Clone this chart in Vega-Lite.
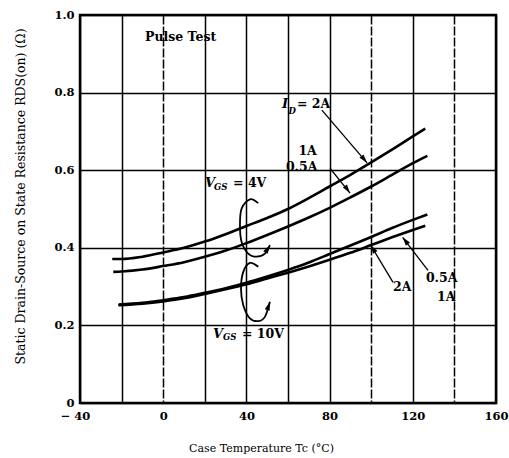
{
  "$schema": "https://vega.github.io/schema/vega-lite/v6.json",
  "width": 416,
  "height": 388,
  "autosize": {"type": "none"},
  "padding": {"left": 80, "top": 15, "right": 13, "bottom": 55},
  "background": "white",
  "config": {
    "view": {"stroke": "black", "strokeWidth": 2.5},
    "axis": {
      "labelFont": "DejaVu Serif", "labelFontWeight": "bold", "labelFontSize": 11.5, "labelColor": "black",
      "titleFont": "DejaVu Serif", "titleFontWeight": "normal", "titleFontSize": 11, "titleColor": "black",
      "ticks": false, "domain": false, "grid": true, "gridColor": "black", "gridWidth": 1.5, "gridOpacity": 1,
      "labelOverlap": false, "labelFlush": false
    }
  },
  "datasets": {
    "curves": [
      {"s": "4V 2A", "t": -24.5, "r": 0.371}, {"s": "4V 2A", "t": -20, "r": 0.371}, {"s": "4V 2A", "t": -10, "r": 0.377},
      {"s": "4V 2A", "t": 0, "r": 0.388}, {"s": "4V 2A", "t": 10, "r": 0.400}, {"s": "4V 2A", "t": 20, "r": 0.416},
      {"s": "4V 2A", "t": 30, "r": 0.435}, {"s": "4V 2A", "t": 40, "r": 0.456}, {"s": "4V 2A", "t": 50, "r": 0.477},
      {"s": "4V 2A", "t": 60, "r": 0.500}, {"s": "4V 2A", "t": 70, "r": 0.528}, {"s": "4V 2A", "t": 80, "r": 0.558},
      {"s": "4V 2A", "t": 90, "r": 0.588}, {"s": "4V 2A", "t": 100, "r": 0.620}, {"s": "4V 2A", "t": 110, "r": 0.653},
      {"s": "4V 2A", "t": 120, "r": 0.687}, {"s": "4V 2A", "t": 126, "r": 0.707},
      {"s": "4V 1A/0.5A", "t": -24, "r": 0.338}, {"s": "4V 1A/0.5A", "t": -20, "r": 0.339}, {"s": "4V 1A/0.5A", "t": -10, "r": 0.344},
      {"s": "4V 1A/0.5A", "t": 0, "r": 0.353}, {"s": "4V 1A/0.5A", "t": 10, "r": 0.363}, {"s": "4V 1A/0.5A", "t": 20, "r": 0.377},
      {"s": "4V 1A/0.5A", "t": 30, "r": 0.393}, {"s": "4V 1A/0.5A", "t": 40, "r": 0.412}, {"s": "4V 1A/0.5A", "t": 50, "r": 0.433},
      {"s": "4V 1A/0.5A", "t": 60, "r": 0.455}, {"s": "4V 1A/0.5A", "t": 70, "r": 0.478}, {"s": "4V 1A/0.5A", "t": 80, "r": 0.503},
      {"s": "4V 1A/0.5A", "t": 90, "r": 0.530}, {"s": "4V 1A/0.5A", "t": 100, "r": 0.558}, {"s": "4V 1A/0.5A", "t": 110, "r": 0.588},
      {"s": "4V 1A/0.5A", "t": 120, "r": 0.618}, {"s": "4V 1A/0.5A", "t": 127, "r": 0.637},
      {"s": "10V 2A", "t": -21.5, "r": 0.254}, {"s": "10V 2A", "t": -10, "r": 0.258}, {"s": "10V 2A", "t": 0, "r": 0.265},
      {"s": "10V 2A", "t": 10, "r": 0.273}, {"s": "10V 2A", "t": 20, "r": 0.284}, {"s": "10V 2A", "t": 30, "r": 0.296},
      {"s": "10V 2A", "t": 40, "r": 0.310}, {"s": "10V 2A", "t": 50, "r": 0.326}, {"s": "10V 2A", "t": 60, "r": 0.343},
      {"s": "10V 2A", "t": 70, "r": 0.362}, {"s": "10V 2A", "t": 80, "r": 0.384}, {"s": "10V 2A", "t": 90, "r": 0.406},
      {"s": "10V 2A", "t": 100, "r": 0.428}, {"s": "10V 2A", "t": 110, "r": 0.451}, {"s": "10V 2A", "t": 120, "r": 0.472},
      {"s": "10V 2A", "t": 127, "r": 0.486},
      {"s": "10V 0.5A/1A", "t": -21.5, "r": 0.252}, {"s": "10V 0.5A/1A", "t": -10, "r": 0.256}, {"s": "10V 0.5A/1A", "t": 0, "r": 0.262},
      {"s": "10V 0.5A/1A", "t": 10, "r": 0.270}, {"s": "10V 0.5A/1A", "t": 20, "r": 0.281}, {"s": "10V 0.5A/1A", "t": 30, "r": 0.293},
      {"s": "10V 0.5A/1A", "t": 40, "r": 0.306}, {"s": "10V 0.5A/1A", "t": 50, "r": 0.321}, {"s": "10V 0.5A/1A", "t": 60, "r": 0.336},
      {"s": "10V 0.5A/1A", "t": 70, "r": 0.352}, {"s": "10V 0.5A/1A", "t": 80, "r": 0.369}, {"s": "10V 0.5A/1A", "t": 90, "r": 0.387},
      {"s": "10V 0.5A/1A", "t": 100, "r": 0.407}, {"s": "10V 0.5A/1A", "t": 110, "r": 0.427}, {"s": "10V 0.5A/1A", "t": 120, "r": 0.446},
      {"s": "10V 0.5A/1A", "t": 126, "r": 0.457}
    ],
    "loops": [
      {"loop": "4V", "k": 1, "t": 45.7, "r": 0.515}, {"loop": "4V", "k": 2, "t": 41.7, "r": 0.525},
      {"loop": "4V", "k": 3, "t": 37.7, "r": 0.501}, {"loop": "4V", "k": 4, "t": 36.9, "r": 0.458},
      {"loop": "4V", "k": 5, "t": 37.7, "r": 0.415}, {"loop": "4V", "k": 6, "t": 40.9, "r": 0.385},
      {"loop": "4V", "k": 7, "t": 44.9, "r": 0.377}, {"loop": "4V", "k": 8, "t": 48.9, "r": 0.385},
      {"loop": "4V", "k": 9, "t": 51.3, "r": 0.407},
      {"loop": "10V", "k": 1, "t": 45.7, "r": 0.351}, {"loop": "10V", "k": 2, "t": 41.7, "r": 0.361},
      {"loop": "10V", "k": 3, "t": 38.5, "r": 0.338}, {"loop": "10V", "k": 4, "t": 37.4, "r": 0.295},
      {"loop": "10V", "k": 5, "t": 38.5, "r": 0.252}, {"loop": "10V", "k": 6, "t": 41.7, "r": 0.218},
      {"loop": "10V", "k": 7, "t": 45.7, "r": 0.211}, {"loop": "10V", "k": 8, "t": 48.9, "r": 0.222},
      {"loop": "10V", "k": 9, "t": 51.3, "r": 0.261}
    ],
    "arrows": [
      {"a": "a1", "t": 76.3, "r": 0.755, "t2": 98.0, "r2": 0.619},
      {"a": "a2", "t": 80.2, "r": 0.605, "t2": 89.8, "r2": 0.541},
      {"a": "a3", "t": 110.5, "r": 0.311, "t2": 99.75, "r2": 0.407},
      {"a": "a4", "t": 127.3, "r": 0.342, "t2": 115.1, "r2": 0.427}
    ],
    "heads": [
      {"a": "a1", "t": 98.0, "r": 0.619},
      {"a": "a2", "t": 89.8, "r": 0.541},
      {"a": "a3", "t": 99.75, "r": 0.407},
      {"a": "a4", "t": 115.1, "r": 0.427},
      {"a": "l4", "t": 51.3, "r": 0.407},
      {"a": "l10", "t": 51.3, "r": 0.261}
    ],
    "labels": [
      {"role": "bold", "txt": "Pulse Test", "t": -8.75, "r": 0.943},
      {"role": "bold", "txt": "1A", "t": 65.0, "r": 0.650},
      {"role": "bold", "txt": "0.5A", "t": 59.0, "r": 0.607},
      {"role": "bold", "txt": "= 2A", "t": 64.3, "r": 0.770},
      {"role": "bold", "txt": "= 4V", "t": 33.6, "r": 0.566},
      {"role": "bold", "txt": "= 10V", "t": 37.9, "r": 0.179},
      {"role": "bold", "txt": "2A", "t": 110.5, "r": 0.298},
      {"role": "bold", "txt": "0.5A", "t": 126.3, "r": 0.322},
      {"role": "bold", "txt": "1A", "t": 131.6, "r": 0.273},
      {"role": "italic", "txt": "I", "t": 57.1, "r": 0.770},
      {"role": "italic", "txt": "V", "t": 20.1, "r": 0.566},
      {"role": "italic", "txt": "V", "t": 23.9, "r": 0.179},
      {"role": "sub", "txt": "D", "t": 60.3, "r": 0.752},
      {"role": "sub", "txt": "GS", "t": 24.4, "r": 0.556},
      {"role": "sub", "txt": "GS", "t": 28.75, "r": 0.170}
    ]
  },
  "layer": [
    {
      "data": {"name": "curves"},
      "mark": {"type": "line", "color": "black", "strokeWidth": 2.6, "interpolate": "monotone"},
      "encoding": {
        "x": {
          "field": "t", "type": "quantitative",
          "scale": {"domain": [-40, 160], "nice": false, "zero": false},
          "axis": {
            "values": [-40, -20, 0, 20, 40, 60, 80, 100, 120, 140, 160],
            "labelExpr": "datum.value % 40 == 0 ? (datum.value < 0 ? '\u2212 ' + abs(datum.value) : '' + datum.value) : ''",
            "title": "Case Temperature  Tc  (\u00b0C)",
            "titleX": 181,
            "labelPadding": 7,
            "titlePadding": 21,
            "labelOffset": {"condition": {"test": "datum.value == -40", "value": -5}, "value": 0},
            "gridDash": {"condition": {"test": "datum.value == 0 || datum.value == 100 || datum.value == 140", "value": [9, 2]}, "value": []}
          }
        },
        "y": {
          "field": "r", "type": "quantitative",
          "scale": {"domain": [0, 1], "nice": false},
          "axis": {
            "values": [0, 0.1, 0.2, 0.3, 0.4, 0.5, 0.6, 0.7, 0.8, 0.9, 1],
            "labelExpr": "round(datum.value * 10) % 2 == 0 ? (datum.value == 0 ? '0' : format(datum.value, '.1f')) : ''",
            "title": "Static Drain-Source on State Resistance  RDS(on)  (\u03a9)",
            "titleFontSize": 12.5,
            "titleY": 181,
            "labelPadding": 6,
            "titlePadding": 26,
            "gridDash": {"condition": {"test": "round(datum.value * 10) == 1 || round(datum.value * 10) == 3", "value": [9, 2]}, "value": []}
          }
        },
        "detail": {"field": "s", "type": "nominal"}
      }
    },
    {
      "data": {"name": "loops"},
      "mark": {"type": "line", "color": "black", "strokeWidth": 1.8, "interpolate": "cardinal"},
      "encoding": {
        "x": {"field": "t", "type": "quantitative"},
        "y": {"field": "r", "type": "quantitative"},
        "detail": {"field": "loop", "type": "nominal"},
        "order": {"field": "k", "type": "quantitative"}
      }
    },
    {
      "data": {"name": "arrows"},
      "mark": {"type": "rule", "color": "black", "strokeWidth": 1.3},
      "encoding": {
        "x": {"field": "t", "type": "quantitative"},
        "y": {"field": "r", "type": "quantitative"},
        "x2": {"field": "t2"},
        "y2": {"field": "r2"}
      }
    },
    {
      "data": {"name": "heads"},
      "mark": {"type": "point", "filled": true, "color": "black", "opacity": 1, "size": 300, "shape": "M0,0L-0.3,1L0.3,1Z"},
      "encoding": {
        "x": {"field": "t", "type": "quantitative"},
        "y": {"field": "r", "type": "quantitative"},
        "angle": {
          "field": "a", "type": "nominal",
          "scale": {"type": "ordinal", "domain": ["a1", "a2", "a3", "a4", "l4", "l10"], "range": [140, 144, 328, 322, 31, 18]},
          "legend": null
        }
      }
    },
    {
      "data": {"name": "labels"},
      "transform": [{"filter": "datum.role == 'bold'"}],
      "mark": {"type": "text", "align": "left", "baseline": "middle", "font": "DejaVu Serif", "fontWeight": "bold", "fontSize": 12.5, "color": "black"},
      "encoding": {
        "x": {"field": "t", "type": "quantitative"},
        "y": {"field": "r", "type": "quantitative"},
        "text": {"field": "txt"}
      }
    },
    {
      "data": {"name": "labels"},
      "transform": [{"filter": "datum.role == 'italic'"}],
      "mark": {"type": "text", "align": "left", "baseline": "middle", "font": "DejaVu Serif", "fontWeight": "bold", "fontStyle": "italic", "fontSize": 13, "color": "black"},
      "encoding": {
        "x": {"field": "t", "type": "quantitative"},
        "y": {"field": "r", "type": "quantitative"},
        "text": {"field": "txt"}
      }
    },
    {
      "data": {"name": "labels"},
      "transform": [{"filter": "datum.role == 'sub'"}],
      "mark": {"type": "text", "align": "left", "baseline": "middle", "font": "DejaVu Serif", "fontWeight": "bold", "fontStyle": "italic", "fontSize": 8.5, "color": "black"},
      "encoding": {
        "x": {"field": "t", "type": "quantitative"},
        "y": {"field": "r", "type": "quantitative"},
        "text": {"field": "txt"}
      }
    }
  ]
}
